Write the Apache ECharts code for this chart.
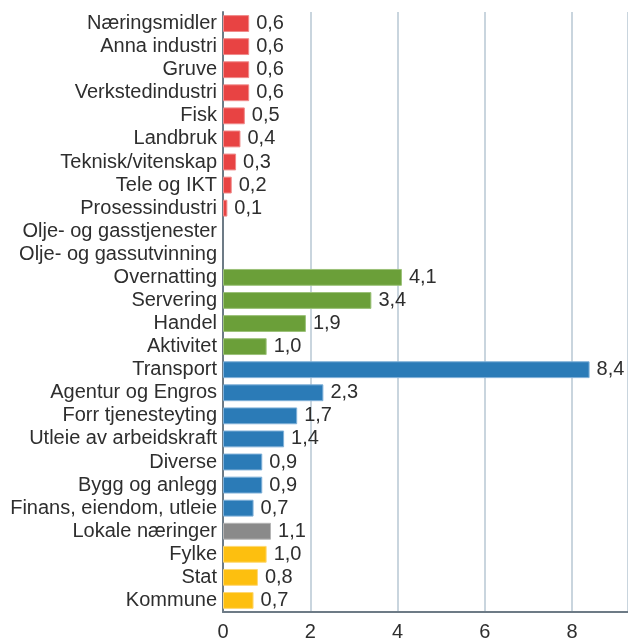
<!DOCTYPE html>
<html><head><meta charset="utf-8">
<script src="https://cdn.jsdelivr.net/npm/echarts@6/dist/echarts.min.js"></script>
<style>html,body{margin:0;padding:0;background:#fff}#c{width:628px;height:642px}</style>
</head><body><div id="c"></div>
<script>
const categories = ["Næringsmidler","Anna industri","Gruve","Verkstedindustri","Fisk","Landbruk","Teknisk/vitenskap","Tele og IKT","Prosessindustri","Olje- og gasstjenester","Olje- og gassutvinning","Overnatting","Servering","Handel","Aktivitet","Transport","Agentur og Engros","Forr tjenesteyting","Utleie av arbeidskraft","Diverse","Bygg og anlegg","Finans, eiendom, utleie","Lokale næringer","Fylke","Stat","Kommune"];
const values = [0.6,0.6,0.6,0.6,0.5,0.4,0.3,0.2,0.1,0,0,4.1,3.4,1.9,1.0,8.4,2.3,1.7,1.4,0.9,0.9,0.7,1.1,1.0,0.8,0.7];
const groups = ["ind","ind","ind","ind","ind","ind","ind","ind","ind","ind","ind","rei","rei","rei","rei","tj","tj","tj","tj","tj","tj","tj","lok","off","off","off"];
const xTicks = [0,2,4,6,8];
const groupColor = {ind:"#e84343",rei:"#6b9f39",tj:"#2b7bb7",lok:"#8a8a8a",off:"#fdbf0f"};
const groupBorder = {ind:"#f08a8a",rei:"#9cc27a",tj:"#7fb0d8",lok:"#b5b5b5",off:"#fed873"};

const chart = echarts.init(document.getElementById('c'));
const font = "'Liberation Sans', Arial, sans-serif";
chart.setOption({
  animation:false,
  grid:{left:223,right:0,top:12,bottom:27,containLabel:false},
  xAxis:{type:'value',min:0,max:9.28,interval:2,
    axisLine:{show:true,lineStyle:{color:'#6d7b86',width:2}},
    axisTick:{show:false},
    splitLine:{show:true,lineStyle:{color:'#c9d5de',width:2}},
    axisLabel:{color:'#2e2e2e',fontSize:20,fontFamily:font,margin:10,showMaxLabel:false,
      formatter:v=>xTicks.includes(v)?String(v):''}},
  yAxis:{type:'category',data:categories,inverse:true,
    axisLine:{show:true,lineStyle:{color:'#6d7b86',width:2}},
    axisTick:{show:false},
    axisLabel:{color:'#2e2e2e',fontSize:20,fontFamily:font,margin:6,interval:0}},
  series:[{type:'bar',barCategoryGap:'27%',
    data:values.map((v,i)=>({value:v,itemStyle:{color:groupColor[groups[i]],borderColor:groupBorder[groups[i]],borderWidth:v?1:0}})),
    label:{show:true,position:'right',distance:7,color:'#2e2e2e',fontSize:20,fontFamily:font,
      formatter:p=>p.value?p.value.toFixed(1).replace('.',','):''}}]
});
</script></body></html>
